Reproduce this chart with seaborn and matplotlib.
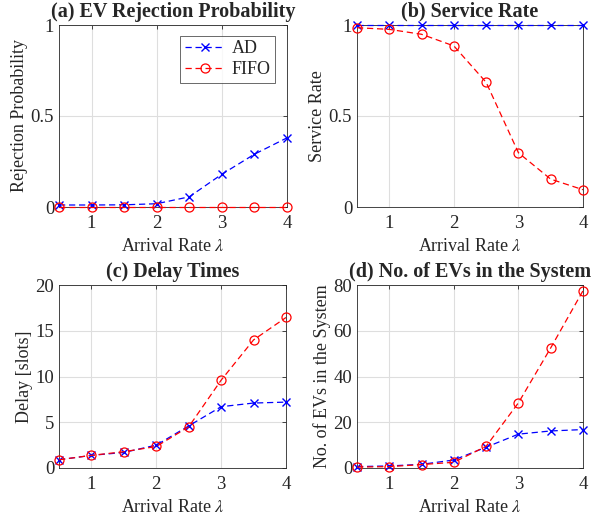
import matplotlib
matplotlib.use("Agg")
import matplotlib.pyplot as plt
import seaborn as sns
import pandas as pd

lam = [0.5, 1.0, 1.5, 2.0, 2.5, 3.0, 3.5, 4.0]

rej_ad = [0.011, 0.011, 0.012, 0.018, 0.056, 0.18, 0.29, 0.38]
rej_fifo = [0.0, 0.0, 0.0, 0.0, 0.0, 0.0, 0.0, 0.0]

srv_ad = [1.0, 1.0, 1.0, 1.0, 1.0, 1.0, 1.0, 1.0]
srv_fifo = [0.985, 0.976, 0.949, 0.885, 0.685, 0.298, 0.153, 0.095]

dly_ad = [0.9, 1.38, 1.7, 2.5, 4.6, 6.7, 7.1, 7.2]
dly_fifo = [0.9, 1.38, 1.78, 2.35, 4.5, 9.6, 14.0, 16.45]

num_ad = [0.6, 0.9, 1.6, 3.5, 9.1, 14.8, 16.2, 16.8]
num_fifo = [0.4, 0.6, 1.5, 2.5, 9.5, 28.5, 52.5, 77.5]

titles = ["(a) EV Rejection Probability", "(b) Service Rate",
          "(c) Delay Times", "(d) No. of EVs in the System"]
ylabels = ["Rejection Probability", "Service Rate", "Delay [slots]",
           "No. of EVs in the System"]
xlabel = "Arrival Rate $\\lambda$"
yticks = [[0, 0.5, 1], [0, 0.5, 1], [0, 5, 10, 15, 20], [0, 20, 40, 60, 80]]
yticklabels = [["0", "0.5", "1"], ["0", "0.5", "1"],
               ["0", "5", "10", "15", "20"], ["0", "20", "40", "60", "80"]]
ylims = [(0, 1), (0, 1), (0, 20), (0, 80)]
series = [(rej_ad, rej_fifo), (srv_ad, srv_fifo), (dly_ad, dly_fifo), (num_ad, num_fifo)]

sns.set_style("white")
plt.rcParams["font.family"] = ["Liberation Serif", "DejaVu Serif"]
plt.rcParams["mathtext.fontset"] = "stix"

W, H = 592, 523
fig = plt.figure(figsize=(W / 100, H / 100), dpi=100)
boxes = [(59, 25, 287, 207), (357, 25, 583, 207),
         (59, 285, 286, 468), (357, 285, 583, 468)]

TXT = "#262626"
for i, (x0, y0, x1, y1) in enumerate(boxes):
    ax = fig.add_axes([x0 / W, 1 - y1 / H, (x1 - x0) / W, (y1 - y0) / H])
    ad, fifo = series[i]
    df = pd.DataFrame({"lam": lam, "AD": ad, "FIFO": fifo})
    sns.lineplot(data=df, x="lam", y="AD", ax=ax, color="blue", linestyle=(0, (5, 3)),
                 marker="x", markersize=6, markeredgecolor="blue",
                 markeredgewidth=1.0, linewidth=0.9,
                 label="AD", zorder=4, clip_on=False)
    sns.lineplot(data=df, x="lam", y="FIFO", ax=ax, color="red", linestyle=(0, (5, 3)),
                 marker="o", markersize=6.5, markerfacecolor="none",
                 markeredgecolor="red", markeredgewidth=0.9, linewidth=0.9,
                 label="FIFO", zorder=4, clip_on=False)
    ax.set_xlim(0.5, 4)
    ax.set_ylim(*ylims[i])
    ax.set_xticks([1, 2, 3, 4])
    ax.set_xticklabels(["1", "2", "3", "4"])
    ax.set_yticks(yticks[i])
    ax.set_yticklabels(yticklabels[i])
    ax.grid(True, color="#dedede", linewidth=0.8)
    ax.set_axisbelow(True)
    ax.tick_params(direction="in", top=True, right=True, length=3,
                   labelsize=13.5, colors=TXT, width=0.6)
    ax.tick_params(axis="x", pad=6)
    for s in ax.spines.values():
        s.set_visible(True)
        s.set_color(TXT)
        s.set_linewidth(0.6)
        s.set_zorder(2)
    ax.set_xlabel(xlabel, fontsize=13, color=TXT, labelpad=4)
    ax.set_ylabel(ylabels[i], fontsize=13, color=TXT, labelpad=2)
    ax.set_title(titles[i], fontsize=14.5, fontweight="bold", pad=6)
    if i == 0:
        leg = ax.legend(loc="upper right", bbox_to_anchor=(0.965, 0.96),
                        fontsize=13, frameon=True, fancybox=False,
                        edgecolor=TXT, handlelength=2.2,
                        borderpad=0.25, labelspacing=0.2, handletextpad=0.4,
                        borderaxespad=0.2)
        leg.get_frame().set_linewidth(0.6)
        leg.set_zorder(5)
    else:
        lg = ax.get_legend()
        if lg is not None:
            lg.remove()

fig.savefig("out.png", dpi=100)
